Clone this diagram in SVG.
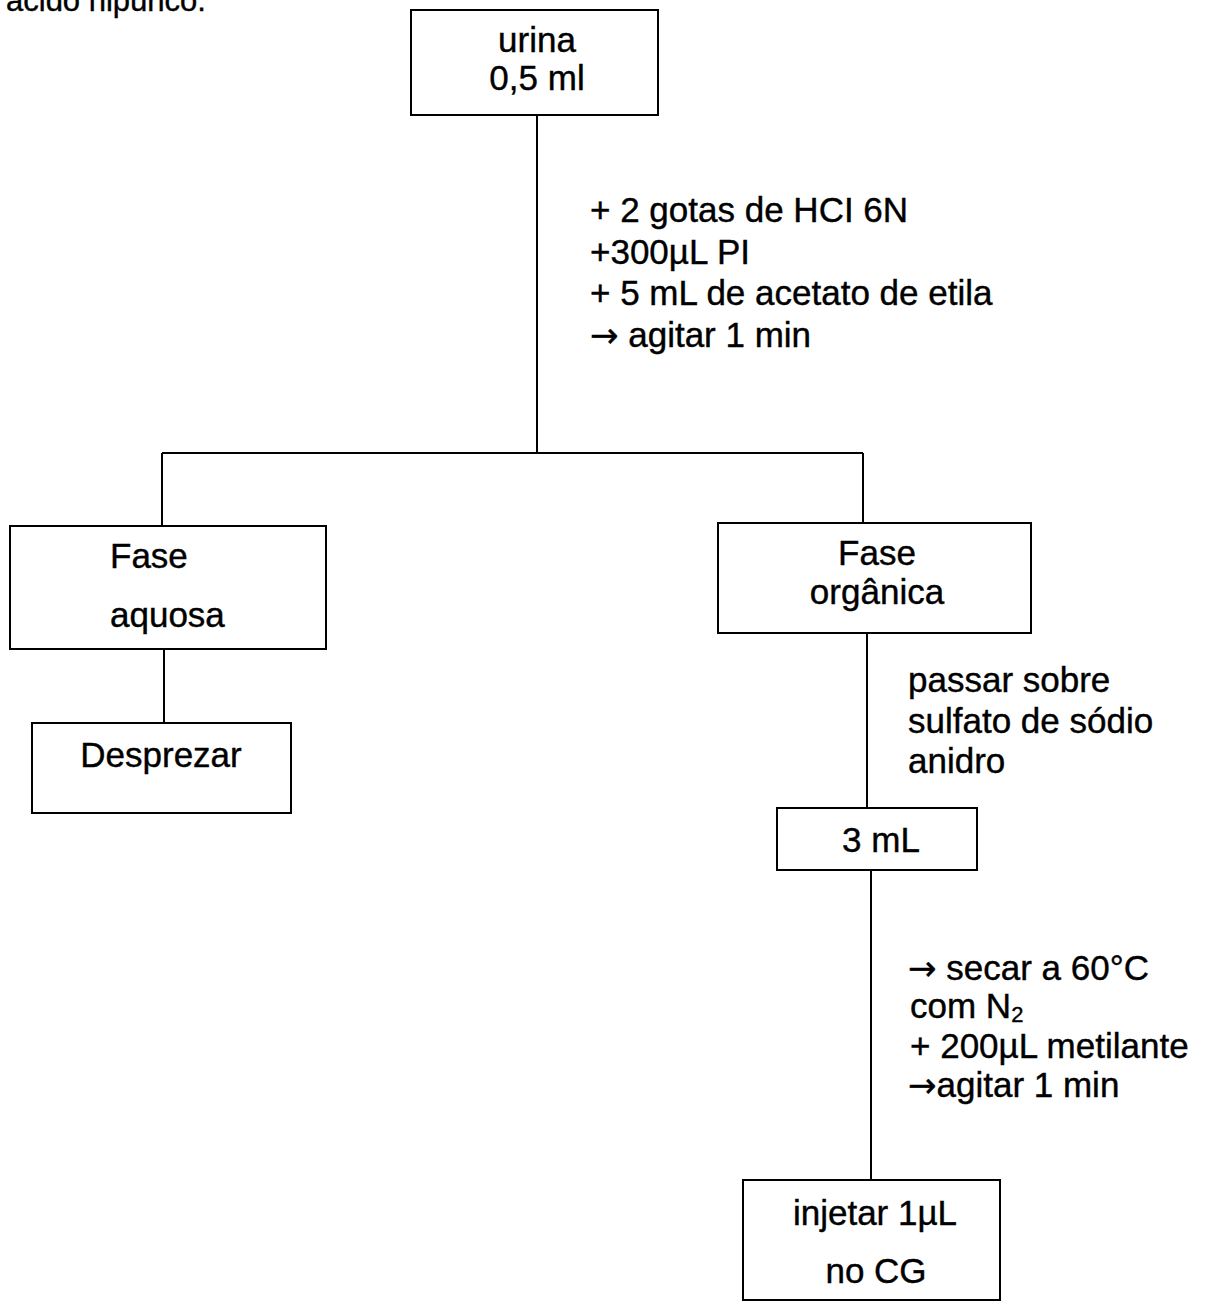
<svg xmlns="http://www.w3.org/2000/svg" width="1216" height="1304" viewBox="0 0 1216 1304">
<style>
text{font-family:"Liberation Sans",Arial,"DejaVu Sans",sans-serif;font-size:35px;fill:#000;stroke:#000;stroke-width:0.4}
.box{fill:none;stroke:#000;stroke-width:2}
.c{text-anchor:middle}
.ar{font-family:"DejaVu Sans",sans-serif;font-size:34px}
#connectors line{stroke:#000;stroke-width:2}
</style>
<rect width="1216" height="1304" fill="#fff"/>
<text x="6" y="11" style="font-size:31px">ácido hipúrico.</text>
<g id="connectors">
<line x1="537" y1="115" x2="537" y2="453"/>
<line x1="162" y1="453" x2="863" y2="453"/>
<line x1="162" y1="453" x2="162" y2="526"/>
<line x1="863" y1="453" x2="863" y2="523"/>
<line x1="164" y1="649" x2="164" y2="723"/>
<line x1="867" y1="633" x2="867" y2="808"/>
<line x1="871" y1="870" x2="871" y2="1180"/>
</g>
<g id="lbl1">
<text x="590" y="222">+ 2 gotas de HCI 6N</text>
<text x="590" y="264">+300µL PI</text>
<text x="590" y="305">+ 5 mL de acetato de etila</text>
<text x="590" y="347"><tspan class="ar">→</tspan> agitar 1 min</text>
</g>
<g id="lbl2">
<text x="908" y="692">passar sobre</text>
<text x="908" y="733">sulfato de sódio</text>
<text x="908" y="773">anidro</text>
</g>
<g id="lbl3">
<text x="908" y="980"><tspan class="ar">→</tspan> secar a 60°C</text>
<text x="910" y="1018">com N<tspan style="font-size:22px" dy="4">2</tspan></text>
<text x="910" y="1058">+ 200µL metilante</text>
<text x="908" y="1097"><tspan class="ar">→</tspan>agitar 1 min</text>
</g>
<g id="urina">
<rect class="box" x="411" y="10" width="247" height="105"/>
<text class="c" x="537" y="52">urina</text>
<text class="c" x="537" y="90">0,5 ml</text>
</g>
<g id="aquosa">
<rect class="box" x="10" y="526" width="316" height="123"/>
<text x="110" y="568">Fase</text>
<text x="110" y="627">aquosa</text>
</g>
<g id="desprezar">
<rect class="box" x="32" y="723" width="259" height="90"/>
<text class="c" x="161" y="767">Desprezar</text>
</g>
<g id="organica">
<rect class="box" x="718" y="523" width="313" height="110"/>
<text class="c" x="877" y="565">Fase</text>
<text class="c" x="877" y="604">orgânica</text>
</g>
<g id="tresml">
<rect class="box" x="777" y="808" width="200" height="62"/>
<text class="c" x="881" y="852">3 mL</text>
</g>
<g id="injetar">
<rect class="box" x="743" y="1180" width="257" height="120"/>
<text class="c" x="875" y="1225">injetar 1µL</text>
<text class="c" x="876" y="1283">no CG</text>
</g>
</svg>
